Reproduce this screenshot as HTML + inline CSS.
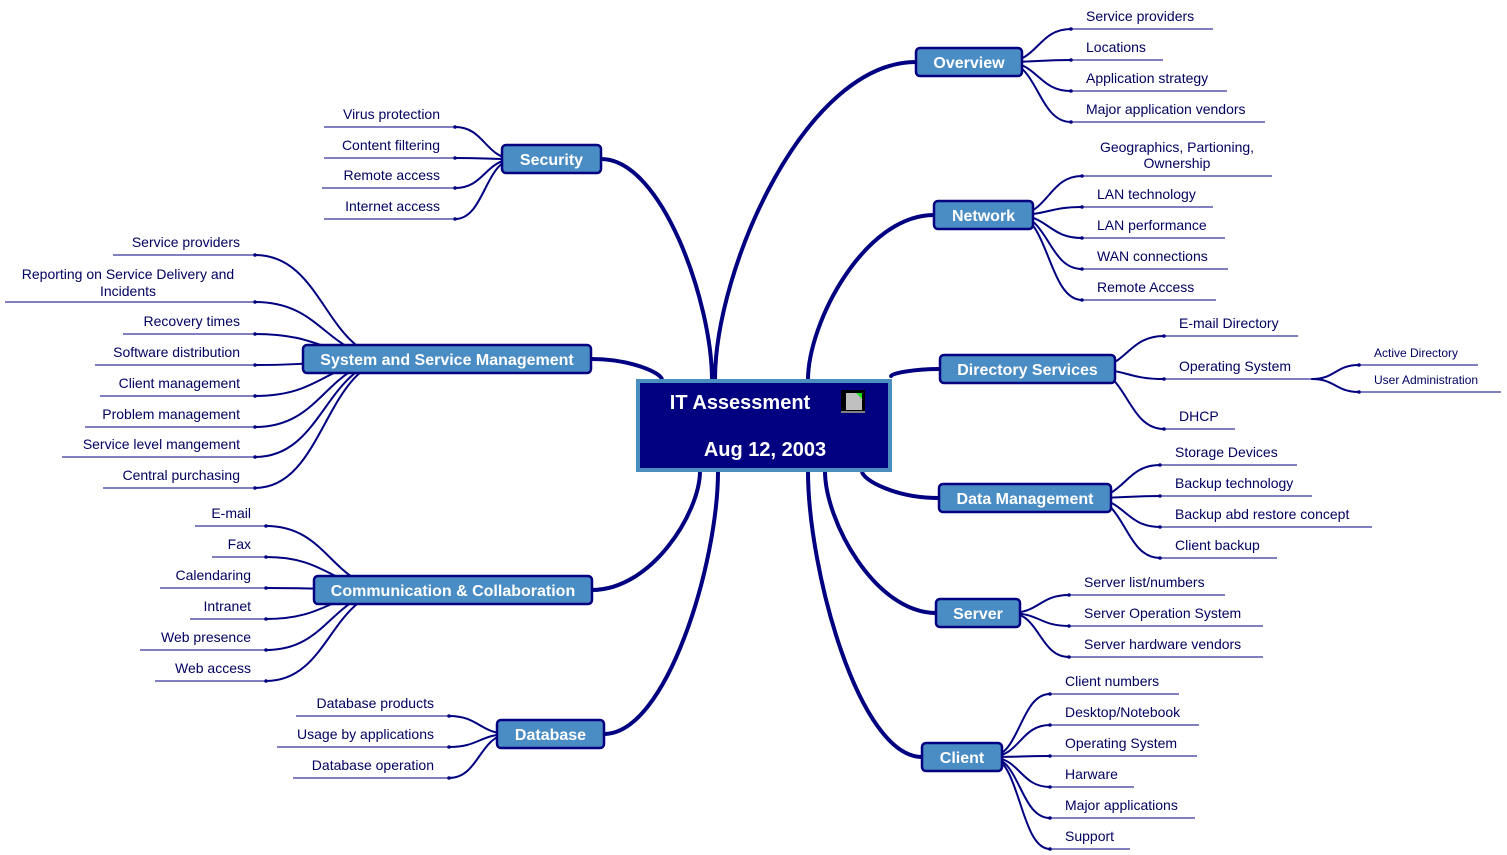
<!DOCTYPE html>
<html><head><meta charset="utf-8"><style>
html,body{margin:0;padding:0;background:#fff;}
svg{display:block;font-family:"Liberation Sans",sans-serif;}
.lf{font-size:14px;fill:#000060;}
.nd{font-size:16px;font-weight:bold;fill:#fff;}
</style></head><body>
<svg id="s" width="1507" height="855" viewBox="0 0 1507 855" xmlns="http://www.w3.org/2000/svg"></svg>
<script>
const s=document.getElementById('s');let out='';
const C='#000080';
function path(d,w){out+=`<path d="${d}" fill="none" stroke="${C}" stroke-width="${w}" stroke-linecap="round"/>`;}
// center -> nodes
const br=[
 // sx,sy, nx,ny
 [715,380,916,62],[808,380,934,215],[891,376,940,369],[862,471,939,498],[825,471,936,613],[808,471,922,757],
 [712,380,601,159],[662,380,591,359],[700,471,592,590],[718,471,604,734]];
for(const [sx,sy,nx,ny] of br){
 path(`M${sx},${sy} C${sx},${sy+0.35*(ny-sy)} ${sx+0.45*(nx-sx)},${ny} ${nx},${ny}`,4);
}
// leaves: node exit (x,y), leaf line (x1,x2,y), dot x, text, text x, anchor, size
function leaf(ex,ey,lx,ly,x1,x2,txt,tx,anchor,fs,lines){
 path(`M${ex},${ey} C${ex+(lx-ex)*0.5},${ey} ${ex+(lx-ex)*0.5},${ly} ${lx},${ly}`,2);
 out+=`<line x1="${x1}" y1="${ly}" x2="${x2}" y2="${ly}" stroke="${C}" stroke-width="1"/>`;
 out+=`<circle cx="${lx}" cy="${ly}" r="1.8" fill="${C}"/>`;
 if(lines){lines.forEach((l,i)=>{out+=`<text class="lf" x="${tx}" y="${ly-29+i*17}" text-anchor="middle">${l}</text>`;});}
 else out+=`<text class="lf" x="${tx}" y="${ly-8}" text-anchor="${anchor}" style="font-size:${fs||14}px">${txt}</text>`;
}
function R(ex,ey,x1,items,tx,lxOff){for(const [y,x2,t,ml] of items)leaf(ex,ey,x1,y,x1,x2,t,tx,'start',14,ml);}
function L(ex,ey,x2,items,tx){for(const [y,x1,t,ml] of items)leaf(ex,ey,x2,y,x1,x2,t,tx,'end',14,ml);}
// Overview
R(1005,62,1071,[[29,1213,'Service providers'],[60,1163,'Locations'],[91,1227,'Application strategy'],[122,1265,'Major application vendors']],1086);
// Network
R(1015,215,1082,[[176,1272,'',['Geographics, Partioning,','Ownership']],[207,1213,'LAN technology'],[238,1225,'LAN performance'],[269,1228,'WAN connections'],[300,1216,'Remote Access']],1097);
// fix multi-line x
// Directory Services
R(1090,369,1164,[[336,1298,'E-mail Directory'],[379,1312,'Operating System'],[429,1235,'DHCP']],1179);
// sub
leaf(1312,379,1359,365,1359,1478,'Active Directory',1374,'start',12);
leaf(1312,379,1359,392,1359,1501,'User Administration',1374,'start',12);
// Data mgmt
R(1090,498,1160,[[465,1297,'Storage Devices'],[496,1312,'Backup technology'],[527,1372,'Backup abd restore concept'],[558,1277,'Client backup']],1175);
// Server
R(1010,613,1069,[[595,1225,'Server list/numbers'],[626,1263,'Server Operation System'],[657,1263,'Server hardware vendors']],1084);
// Client
R(990,757,1050,[[694,1179,'Client numbers'],[725,1199,'Desktop/Notebook'],[756,1197,'Operating System'],[787,1134,'Harware'],[818,1195,'Major applications'],[849,1130,'Support']],1065);
// Security
L(515,159,455,[[127,324,'Virus protection'],[158,324,'Content filtering'],[188,322,'Remote access'],[219,324,'Internet access']],440);
// SSM
L(395,359,255,[[255,113,'Service providers'],[302,5,'',['Reporting on Service Delivery and','Incidents']],[334,123,'Recovery times'],[365,95,'Software distribution'],[396,100,'Client management'],[427,85,'Problem management'],[457,62,'Service level mangement'],[488,103,'Central purchasing']],240);
// Comm
L(395,590,266,[[526,195,'E-mail'],[557,212,'Fax'],[588,160,'Calendaring'],[619,190,'Intranet'],[650,140,'Web presence'],[681,155,'Web access']],251);
// Database
L(510,734,449,[[716,296,'Database products'],[747,277,'Usage by applications'],[778,293,'Database operation']],434);
// fix centered multi-line text positions
out=out.replace(/x="1097" y="147" text-anchor="middle"/,'x="1177" y="152" text-anchor="middle"').replace(/x="1097" y="164" text-anchor="middle"/,'x="1177" y="168" text-anchor="middle"');
out=out.replace(/x="240" y="273" text-anchor="middle"/,'x="128" y="279" text-anchor="middle"').replace(/x="240" y="290" text-anchor="middle"/,'x="128" y="296" text-anchor="middle"');
// nodes
const nodes=[[916,48,106,'Overview'],[934,201,99,'Network'],[940,355,175,'Directory Services'],[939,484,172,'Data Management'],[936,599,84,'Server'],[922,743,80,'Client'],[502,145,99,'Security'],[303,345,288,'System and Service Management'],[314,576,278,'Communication &amp; Collaboration'],[497,720,107,'Database']];
for(const [x,y,w,t] of nodes){
 out+=`<rect x="${x}" y="${y}" width="${w}" height="28" rx="4" fill="#4a8cc4" stroke="${C}" stroke-width="2.5"/>`;
 out+=`<text class="nd" x="${x+w/2}" y="${y+20}" text-anchor="middle">${t}</text>`;
}
// center
out+=`<rect x="638" y="381" width="252" height="89" fill="#000080" stroke="#4a8fc0" stroke-width="4"/>`;
out+=`<text x="740" y="409" text-anchor="middle" style="font-size:20px;font-weight:bold;fill:#fff">IT Assessment</text>`;
out+=`<text x="765" y="456" text-anchor="middle" style="font-size:20px;font-weight:bold;fill:#fff">Aug 12, 2003</text>`;
out+=`<rect x="841" y="390" width="24" height="23" fill="#000"/><path d="M846,393 L857,393 L862,398 L862,410 L846,410 Z" fill="#c0c0c0"/><path d="M856,393 L862,393 L862,399 Z" fill="#20e020"/><line x1="841" y1="412" x2="865" y2="412" stroke="#fff"/>`;
s.innerHTML=out;
</script>
</body></html>
